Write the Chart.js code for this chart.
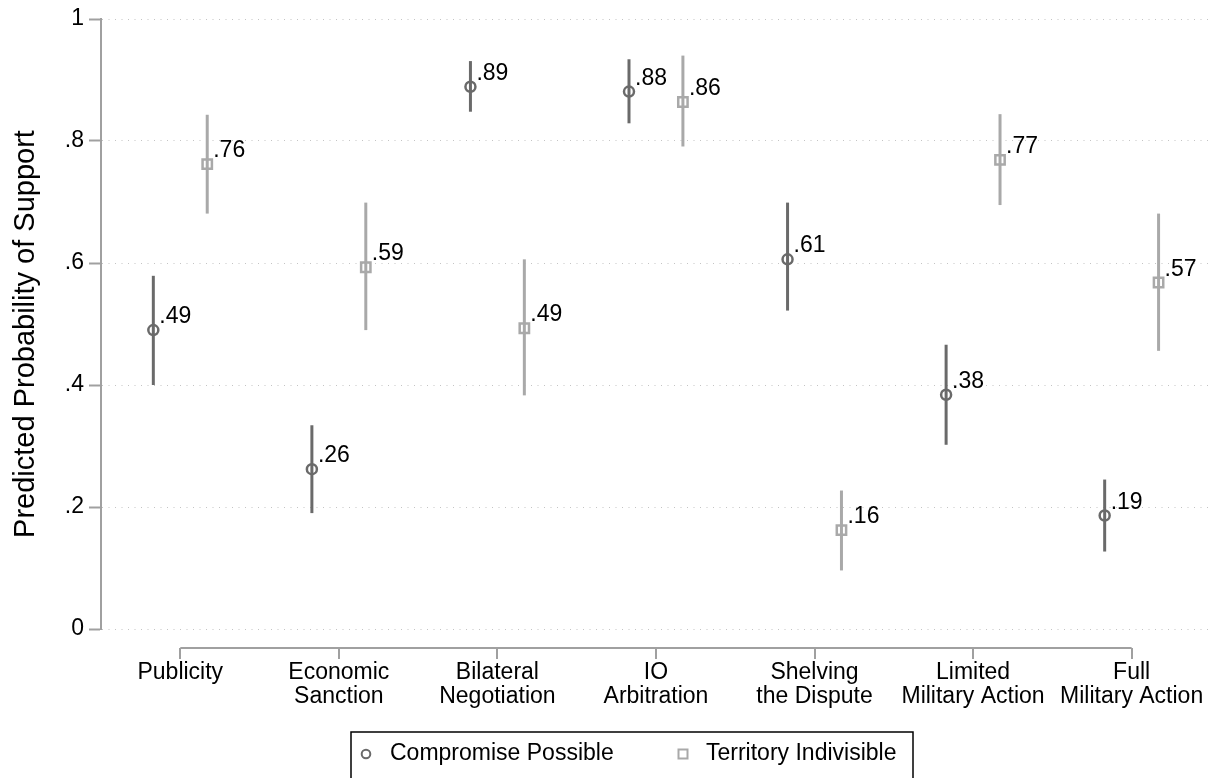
<!DOCTYPE html>
<html>
<head>
<meta charset="utf-8">
<script src="https://cdn.jsdelivr.net/npm/chart.js@4.4.1/dist/chart.umd.min.js"></script>
<style>
  html, body { margin: 0; padding: 0; background: #fff; }
</style>
</head>
<body>
<canvas id="myChart" width="1220" height="778"></canvas>
<script>
// data
var categories = [
    ['Publicity'],
    ['Economic', 'Sanction'],
    ['Bilateral', 'Negotiation'],
    ['IO', 'Arbitration'],
    ['Shelving', 'the Dispute'],
    ['Limited', 'Military Action'],
    ['Full', 'Military Action']
];
var compEst = [0.490, 0.262, 0.889, 0.881, 0.606, 0.384, 0.186];
var compLo  = [0.400, 0.190, 0.848, 0.829, 0.522, 0.302, 0.127];
var compHi  = [0.579, 0.334, 0.931, 0.934, 0.699, 0.466, 0.245];
var terrEst = [0.762, 0.593, 0.493, 0.864, 0.162, 0.769, 0.568];
var terrLo  = [0.681, 0.490, 0.383, 0.791, 0.096, 0.695, 0.456];
var terrHi  = [0.843, 0.699, 0.606, 0.940, 0.227, 0.844, 0.681];
var yTickLabels = ['0', '.2', '.4', '.6', '.8', '1'];
var yTitle = 'Predicted Probability of Support';

var FONT = "'Liberation Sans', Arial, Helvetica, sans-serif";
var DARK = '#6a6a6a';
var LIGHT = '#a9a9a9';
var AXIS = '#a0a0a0';
var SHIFT = 0.17; // horizontal dodge of the two groups

function fmt(v) {
    var s = v.toFixed(2);
    return s.charAt(0) === '0' ? s.slice(1) : s;
}

var compPts = compEst.map(function(v, i) { return {x: i + 1 - SHIFT, y: v}; });
var terrPts = terrEst.map(function(v, i) { return {x: i + 1 + SHIFT, y: v}; });
var compCI = compLo.map(function(v, i) { return {x: i + 1 - SHIFT, y: [v, compHi[i]]}; });
var terrCI = terrLo.map(function(v, i) { return {x: i + 1 + SHIFT, y: [v, terrHi[i]]}; });

// value labels next to the markers
var pointLabels = {
    id: 'pointLabels',
    afterDatasetsDraw: function(chart) {
        var ctx = chart.ctx;
        ctx.save();
        ctx.font = '23px ' + FONT;
        ctx.fillStyle = '#000';
        ctx.textAlign = 'left';
        ctx.textBaseline = 'alphabetic';
        chart.data.datasets.forEach(function(ds, di) {
            if (ds.type !== 'scatter') return;
            chart.getDatasetMeta(di).data.forEach(function(pt, i) {
                ctx.fillText(fmt(ds.data[i].y), pt.x + 6, pt.y - 7);
            });
        });
        ctx.restore();
    }
};

// stata style x axis: detached line with ticks, y title, boxed legend
var extras = {
    id: 'extras',
    afterDraw: function(chart) {
        var ctx = chart.ctx;
        var xs = chart.scales.x;
        var yAx = chart.chartArea.bottom + 19;
        var x0 = xs.getPixelForValue(1);
        var x1 = xs.getPixelForValue(categories.length);
        ctx.save();
        ctx.strokeStyle = AXIS;
        ctx.lineWidth = 2;
        ctx.beginPath();
        ctx.moveTo(x0, yAx);
        ctx.lineTo(x1, yAx);
        for (var i = 0; i < categories.length; i++) {
            var px = Math.round(xs.getPixelForValue(i + 1));
            ctx.moveTo(px, yAx);
            ctx.lineTo(px, yAx + 11);
        }
        ctx.stroke();

        // y axis title
        ctx.save();
        ctx.translate(26, 334);
        ctx.rotate(-Math.PI / 2);
        ctx.font = '29px ' + FONT;
        ctx.fillStyle = '#000';
        ctx.textAlign = 'center';
        ctx.textBaseline = 'middle';
        ctx.fillText(yTitle, 0, 0);
        ctx.restore();

        // legend
        ctx.strokeStyle = '#000';
        ctx.lineWidth = 1.5;
        ctx.strokeRect(351, 732, 562, 70);
        ctx.font = '23px ' + FONT;
        ctx.fillStyle = '#000';
        ctx.textBaseline = 'middle';
        ctx.textAlign = 'left';
        var ly = 754;
        ctx.strokeStyle = DARK;
        ctx.lineWidth = 2;
        ctx.beginPath();
        ctx.arc(366, ly, 4.3, 0, Math.PI * 2);
        ctx.stroke();
        ctx.fillText(chart.data.datasets[0].label, 390, ly);
        ctx.strokeStyle = LIGHT;
        ctx.strokeRect(678.5, ly - 4.5, 9, 9);
        ctx.fillText(chart.data.datasets[1].label, 706, ly);
        ctx.restore();
    }
};

var ctx = document.getElementById('myChart').getContext('2d');
var myChart = new Chart(ctx, {
    type: 'scatter',
    data: {
        datasets: [
            {
                type: 'scatter',
                label: 'Compromise Possible',
                data: compPts,
                pointStyle: 'circle',
                pointRadius: 5,
                pointBorderWidth: 2.5,
                pointBorderColor: DARK,
                pointBackgroundColor: 'rgba(0,0,0,0)',
                order: 0
            },
            {
                type: 'scatter',
                label: 'Territory Indivisible',
                data: terrPts,
                pointStyle: 'rect',
                pointRadius: 6.6,
                pointBorderWidth: 2.5,
                pointBorderColor: LIGHT,
                pointBackgroundColor: 'rgba(0,0,0,0)',
                order: 0
            },
            {
                type: 'bar',
                label: 'ci1',
                data: compCI,
                backgroundColor: DARK,
                borderWidth: 0,
                grouped: false,
                maxBarThickness: 3,
                order: 1
            },
            {
                type: 'bar',
                label: 'ci2',
                data: terrCI,
                backgroundColor: LIGHT,
                borderWidth: 0,
                grouped: false,
                maxBarThickness: 3,
                order: 1
            }
        ]
    },
    options: {
        responsive: false,
        animation: false,
        events: [],
        layout: {padding: {top: 19, right: 8, left: 0, bottom: 0}},
        plugins: {
            legend: {display: false},
            tooltip: {enabled: false}
        },
        scales: {
            x: {
                type: 'linear',
                min: 0.5,
                max: categories.length + 0.5,
                offset: false,
                grid: {display: false, drawTicks: false, offset: false},
                border: {display: false},
                afterBuildTicks: function(scale) {
                    scale.ticks = categories.map(function(c, i) { return {value: i + 1}; });
                },
                afterFit: function(scale) {
                    scale.height = 149;
                    scale.paddingLeft = 0;
                    scale.paddingRight = 0;
                },
                ticks: {
                    autoSkip: false,
                    maxRotation: 0,
                    padding: 31,
                    color: '#000',
                    font: {family: FONT, size: 23, lineHeight: 1.06},
                    callback: function(v) { return categories[Math.round(v) - 1]; }
                }
            },
            y: {
                type: 'linear',
                min: 0,
                max: 1,
                afterFit: function(scale) { scale.width = 101; },
                grid: {
                    color: '#c4c4c4',
                    lineWidth: 1,
                    tickColor: AXIS,
                    tickLength: 12,
                    tickWidth: 2,
                    tickBorderDash: []
                },
                border: {display: true, color: AXIS, width: 2, dash: [1, 5.5]},
                ticks: {
                    stepSize: 0.2,
                    padding: 5,
                    color: '#000',
                    font: {family: FONT, size: 23},
                    callback: function(v, i) { return yTickLabels[i]; }
                }
            }
        }
    },
    plugins: [pointLabels, extras]
});
</script>
</body>
</html>
